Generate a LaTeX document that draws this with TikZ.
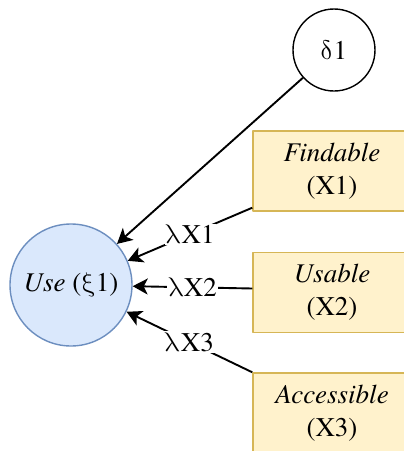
\documentclass[tikz,border=0pt]{standalone}
\usepackage{fontspec}
\usepackage{unicode-math}
\setmainfont{texgyretermes}[Extension=.otf,UprightFont=*-regular,ItalicFont=*-italic,BoldFont=*-bold,BoldItalicFont=*-bolditalic]
\newcommand{\gr}[1]{$\symup{#1}$}
\usetikzlibrary{arrows.meta}
\definecolor{usefill}{HTML}{DAE8FC}
\definecolor{usedraw}{HTML}{6C8EBF}
\definecolor{itemfill}{HTML}{FFF2CC}
\definecolor{itemdraw}{HTML}{D6B656}
\begin{document}
\begin{tikzpicture}[x=1pt,y=-1pt,>={Stealth[length=15pt,width=16pt,inset=4pt]},line join=round,
  font=\fontsize{27}{33}\selectfont,
  latent/.style={circle,draw,line width=1.4pt,inner sep=0pt},
  item/.style={draw=itemdraw,fill=itemfill,line width=1.4pt,minimum width=158pt,minimum height=80pt,align=center,inner sep=0pt},
  load/.style={fill=white,inner sep=1pt,pos=.5},
  path/.style={->,line width=1.9pt}]
\useasboundingbox (0,0) rectangle (404,451);
\clip (0,0) rectangle (404,451);
% latent variable and its error term
\node[latent,minimum size=82pt] (d1) at (334,50) {\gr{\delta}1};
\node[latent,draw=usedraw,fill=usefill,minimum size=122pt] (xi1) at (71,285) {\textit{Use} (\gr{\xi}1)};
% observed indicators
\node[item] (x1) at (332,171) {\textit{Findable}\\(X1)};
\node[item] (x2) at (332,292.5) {\textit{Usable}\\(X2)};
\node[item] (x3) at (332,413) {\textit{Accessible}\\(X3)};
% loadings
\draw[path] (d1) -- (xi1);
\draw[path] ([yshift=4pt]x1.south west) -- node[load] {\gr{\lambda}X1} (xi1);
\draw[path] ([yshift=4pt]x2.west) -- node[load] {\gr{\lambda}X2} (xi1);
\draw[path] (x3.north west) -- node[load] {\gr{\lambda}X3} (xi1);
\end{tikzpicture}
\end{document}
